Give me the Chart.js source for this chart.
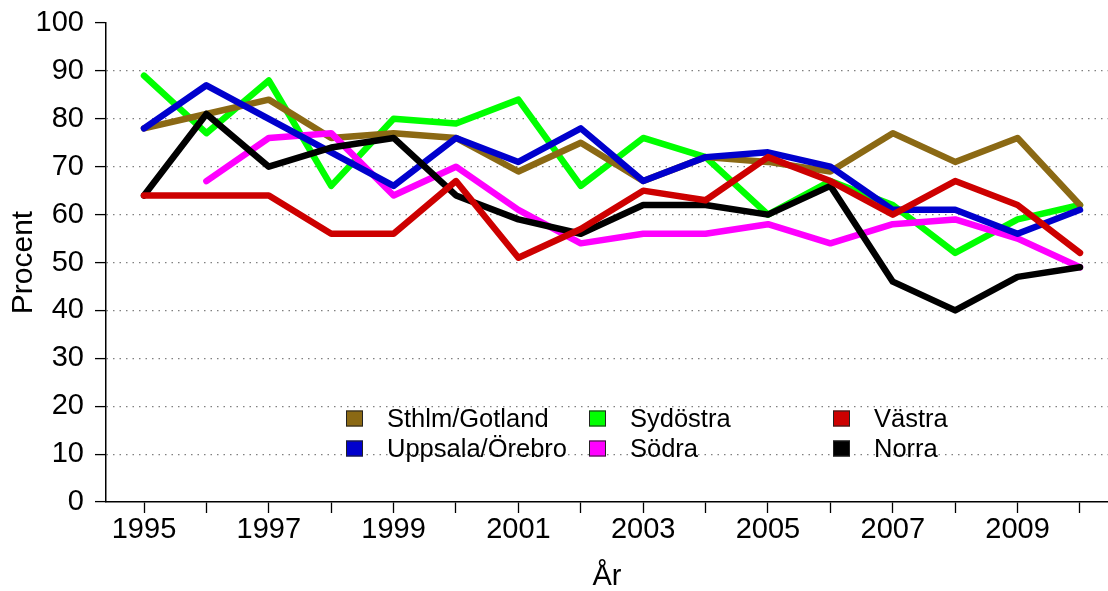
<!DOCTYPE html>
<html>
<head>
<meta charset="utf-8">
<script src="https://cdn.jsdelivr.net/npm/chart.js@4"></script>
<style>
  body { margin: 0; background: #fff; }
  #wrap { width: 1108px; height: 591px; position: relative; }
</style>
</head>
<body>
<div id="wrap"><canvas id="regionChart"></canvas></div>
<script>
const years = [1995, 1996, 1997, 1998, 1999, 2000, 2001, 2002, 2003, 2004, 2005, 2006, 2007, 2008, 2009, 2010];
const sthlmGotland = [78, 81, 84, 76, 77, 76, 69, 75, 67, 72, 71, 69, 77, 71, 76, 62];
const uppsalaOrebro = [78, 87, 80, 73, 66, 76, 71, 78, 67, 72, 73, 70, 61, 61, 56, 61];
const sydostra = [89, 77, 88, 66, 80, 79, 84, 66, 76, 72, 60, 67, 62, 52, 59, 62];
const sodra = [null, 67, 76, 77, 64, 70, 61, 54, 56, 56, 58, 54, 58, 59, 55, 49];
const vastra = [64, 64, 64, 56, 56, 67, 51, 57, 65, 63, 72, 67, 60, 67, 62, 52];
const norra = [64, 81, 70, 74, 76, 64, 59, 56, 62, 62, 60, 66, 46, 40, 47, 49];
const yTicks = [0, 10, 20, 30, 40, 50, 60, 70, 80, 90, 100];

const font = "'Liberation Sans', Arial, Helvetica, sans-serif";

function series(label, values, color, order) {
  return {
    label: label,
    data: years.map((yr, i) => ({ x: yr, y: values[i] })),
    borderColor: color,
    backgroundColor: color,
    borderWidth: 6.5,
    pointRadius: 0,
    borderCapStyle: "round",
    borderJoinStyle: "round",
    tension: 0,
    fill: false,
    order: order
  };
}

// legend laid out column by column, like the original
const legendPlugin = {
  id: "boxLegend",
  afterDraw(chart) {
    const ctx = chart.ctx;
    const colX = [346, 589, 833];
    const rowY = [418.5, 448.5];
    ctx.save();
    ctx.font = "25.5px " + font;
    ctx.textBaseline = "middle";
    ctx.textAlign = "left";
    chart.data.datasets.forEach((ds, i) => {
      const x = colX[Math.floor(i / 2)];
      const y = rowY[i % 2];
      ctx.fillStyle = ds.borderColor;
      ctx.fillRect(x, y - 8, 17, 16);
      ctx.strokeStyle = "#222";
      ctx.lineWidth = 1;
      ctx.strokeRect(x + 0.5, y - 7.5, 16, 15);
      ctx.fillStyle = "#000";
      ctx.fillText(ds.label, x + 41, y + 1);
    });
    ctx.restore();
  }
};

new Chart(document.getElementById("regionChart"), {
  type: "line",
  data: {
    datasets: [
      series("Sthlm/Gotland", sthlmGotland, "#8B6914", 5),
      series("Uppsala/Örebro", uppsalaOrebro, "#0000CD", 3),
      series("Sydöstra", sydostra, "#00FF00", 6),
      series("Södra", sodra, "#FF00FF", 4),
      series("Västra", vastra, "#CD0000", 1),
      series("Norra", norra, "#000000", 2)
    ]
  },
  options: {
    responsive: true,
    maintainAspectRatio: false,
    animation: false,
    devicePixelRatio: 1,
    layout: { padding: { top: 23, right: 0, left: 0, bottom: 0 }, autoPadding: false },
    plugins: { legend: { display: false }, tooltip: { enabled: false } },
    scales: {
      x: {
        type: "linear",
        min: 1994.391,
        max: 2010.449,
        afterFit: s => { s.height = 89; s.paddingLeft = 0; s.paddingRight = 0; },
        afterBuildTicks: s => { s.ticks = years.map(v => ({ value: v })); },
        grid: {
          drawOnChartArea: false,
          drawTicks: true,
          tickLength: 11,
          tickColor: "#000",
          tickWidth: 1.3
        },
        border: { display: true, color: "#000", width: 1.5 },
        ticks: {
          autoSkip: false,
          maxRotation: 0,
          padding: 0,
          color: "#000",
          font: { family: font, size: 29 },
          callback: v => (v % 2 === 1 ? String(v) : "")
        },
        title: {
          display: true,
          text: "År",
          color: "#000",
          font: { family: font, size: 29, lineHeight: 1 },
          padding: { top: 0, bottom: 0 }
        }
      },
      y: {
        min: 0,
        max: 100,
        afterFit: s => { s.width = 106; s.paddingTop = 0; s.paddingBottom = 0; },
        afterBuildTicks: s => { s.ticks = yTicks.map(v => ({ value: v })); },
        grid: {
          color: c => (c.tick && (c.tick.value === 0 || c.tick.value === 100) ? "rgba(0,0,0,0)" : "#808080"),
          lineWidth: 1.2,
          drawTicks: true,
          tickLength: 11,
          tickColor: "#000",
          tickWidth: 1.3,
          tickBorderDash: []
        },
        border: { display: true, color: "#000", width: 1.5, dash: [1.5, 5] },
        ticks: {
          padding: 11,
          color: "#000",
          font: { family: font, size: 29 }
        },
        title: {
          display: true,
          text: "Procent",
          color: "#000",
          font: { family: font, size: 30, lineHeight: 1 },
          padding: { top: 9, bottom: 0 }
        }
      }
    }
  },
  plugins: [legendPlugin]
});
</script>
</body>
</html>
